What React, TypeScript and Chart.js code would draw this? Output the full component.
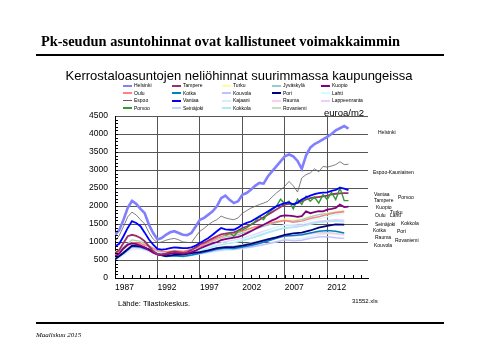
import React, { useEffect, useRef } from "react";
import { Chart, registerables } from "chart.js";
Chart.register(...registerables);

// ---------- DATA ----------
const HALF_YEARS = [
  1987, 1987.5, 1988, 1988.5, 1989, 1989.5, 1990, 1990.5, 1991, 1991.5,
  1992, 1992.5, 1993, 1993.5, 1994, 1994.5, 1995, 1995.5, 1996, 1996.5,
  1997, 1997.5, 1998, 1998.5, 1999, 1999.5, 2000, 2000.5, 2001, 2001.5,
  2002, 2002.5, 2003, 2003.5, 2004, 2004.5, 2005, 2005.5, 2006, 2006.5,
  2007, 2007.5, 2008, 2008.5, 2009, 2009.5, 2010, 2010.5, 2011, 2011.5,
  2012, 2012.5, 2013, 2013.5, 2014, 2014.5,
];
const YEARS = [
  1987, 1988, 1989, 1990, 1991, 1992, 1993, 1994, 1995, 1996, 1997, 1998, 1999, 2000,
  2001, 2002, 2003, 2004, 2005, 2006, 2007, 2008, 2009, 2010, 2011, 2012, 2013, 2014,
];
const X_TICKS = [1987, 1992, 1997, 2002, 2007, 2012];
const Y_TICKS = [0, 500, 1000, 1500, 2000, 2500, 3000, 3500, 4000, 4500];

// half-yearly series
const helsinki = [
  1200, 1330, 1620, 1950, 2140, 2060, 1920, 1800, 1480, 1250,
  1070, 1110, 1200, 1270, 1300, 1250, 1200, 1190, 1250, 1430,
  1620, 1670, 1760, 1850, 1990, 2220, 2290, 2170, 2080, 2130,
  2310, 2360, 2450, 2560, 2640, 2620, 2820, 2960, 3100, 3240,
  3380, 3430, 3380, 3250, 3030, 3400, 3620, 3720, 3780, 3850,
  3920, 4000, 4100, 4160, 4220, 4150,
];
const espoo = [
  1020, 1180, 1430, 1700, 1830, 1750, 1620, 1500, 1260, 1080,
  980, 1000, 1050, 1080, 1100, 1060, 1000, 990, 980, 1150,
  1300, 1380, 1480, 1560, 1620, 1720, 1670, 1640, 1620, 1670,
  1800, 1870, 1940, 1990, 2040, 2080, 2130, 2250, 2360, 2450,
  2550, 2680, 2560, 2390, 2780, 2870, 2920, 3030, 2950, 3100,
  3080, 3110, 3150, 3230, 3150, 3160,
];
const vantaa = [
  880, 950, 1160, 1390, 1580, 1530, 1440, 1260, 1070, 930,
  810, 790, 800, 830, 850, 840, 830, 830, 850, 900,
  970, 1040, 1110, 1200, 1300, 1390, 1350, 1340, 1340, 1400,
  1480, 1530, 1570, 1640, 1710, 1780, 1850, 1920, 1990, 2040,
  2080, 2100, 2040, 2100, 2180, 2240, 2290, 2330, 2360, 2370,
  2380, 2420, 2450, 2510, 2480, 2440,
];
const tampere = [
  690, 780, 970, 1160, 1200, 1170, 1110, 1020, 880, 750,
  660, 660, 680, 720, 740, 720, 700, 720, 780, 850,
  930, 980, 1040, 1100, 1160, 1210, 1230, 1250, 1270, 1320,
  1390, 1430, 1480, 1550, 1620, 1690, 1760, 1830, 1900, 1970,
  2040, 2060, 2060, 2080, 2130, 2180, 2220, 2240, 2250, 2270,
  2290, 2320, 2340, 2350, 2360, 2360,
];
const kuopio = [
  600, 680, 820, 930, 960, 940, 900, 850, 780, 700,
  650, 640, 650, 680, 700, 690, 680, 690, 720, 760,
  820, 870, 920, 960, 1000, 1050, 1080, 1100, 1120, 1140,
  1180, 1240, 1300, 1360, 1420, 1480, 1540, 1600, 1650, 1720,
  1740, 1730, 1720, 1700, 1720, 1850, 1800, 1830, 1860, 1850,
  1900, 1920, 1950, 2040, 1970, 1980,
];
const porvoo = [
  null, null, null, null, null, null, null, null, null, null,
  null, null, null, null, null, null, null, null, null, null,
  null, null, null, null, null, null, 1180, 1250, 1160, 1300,
  1340, 1390, 1480, 1570, 1710, 1620, 1800, 1900, 1990, 2190,
  2060, 2130, 1920, 2190, 2040, 2270, 2130, 2250, 2080, 2310,
  2180, 2380, 2180, 2500, 2150, 2150,
];

// yearly series
const turku = [720, 880, 1030, 1000, 900, 780, 740, 760, 740, 780, 860, 960, 1060, 1130, 1180, 1250, 1330, 1420, 1500, 1580, 1640, 1620, 1650, 1720, 1770, 1810, 1850, 1880];
const jyvaskyla = [680, 860, 1060, 1020, 900, 760, 720, 750, 730, 770, 860, 970, 1070, 1140, 1170, 1240, 1320, 1400, 1470, 1540, 1600, 1580, 1620, 1700, 1760, 1790, 1830, 1860];
const oulu = [650, 820, 980, 960, 880, 760, 730, 750, 740, 790, 880, 1000, 1110, 1190, 1230, 1300, 1380, 1450, 1510, 1560, 1600, 1550, 1580, 1650, 1700, 1760, 1810, 1840];
const kotka = [520, 680, 880, 860, 780, 660, 600, 620, 600, 640, 690, 740, 800, 830, 820, 860, 900, 960, 1030, 1100, 1170, 1180, 1200, 1250, 1300, 1320, 1300, 1250];
const kouvola = [560, 700, 860, 840, 760, 650, 600, 620, 600, 630, 680, 720, 770, 800, 800, 830, 860, 900, 950, 1000, 1060, 1030, 1050, 1100, 1140, 1150, 1120, 1100];
const pori = [520, 700, 900, 880, 800, 660, 610, 640, 650, 690, 720, 770, 830, 860, 860, 900, 950, 1010, 1070, 1130, 1200, 1240, 1260, 1320, 1400, 1450, 1490, 1480];
const lahti = [600, 760, 920, 900, 820, 700, 650, 680, 670, 700, 780, 860, 930, 980, 1000, 1080, 1150, 1230, 1320, 1400, 1480, 1480, 1520, 1590, 1650, 1700, 1760, 1780];
const kajaani = [500, 640, 800, 800, 730, 640, 600, 610, 600, 620, 660, 700, 740, 770, 780, 810, 850, 900, 960, 1020, 1080, 1080, 1100, 1150, 1200, 1230, 1240, 1250];
const rauma = [540, 680, 840, 830, 760, 660, 610, 630, 620, 650, 700, 750, 800, 830, 840, 880, 930, 990, 1040, 1100, 1150, 1160, 1180, 1220, 1250, 1240, 1220, 1200];
const lappeenranta = [620, 780, 960, 940, 850, 730, 690, 710, 700, 730, 800, 880, 950, 1010, 1050, 1110, 1180, 1260, 1340, 1410, 1470, 1460, 1480, 1530, 1580, 1600, 1620, 1610];
const seinajoki = [560, 720, 880, 870, 790, 690, 640, 660, 650, 690, 760, 830, 900, 950, 980, 1040, 1110, 1190, 1270, 1340, 1400, 1420, 1450, 1510, 1560, 1580, 1590, 1580];
const kokkola = [580, 740, 900, 880, 800, 700, 660, 670, 660, 700, 760, 830, 900, 950, 980, 1030, 1100, 1170, 1250, 1320, 1380, 1400, 1430, 1490, 1540, 1560, 1580, 1560];
const rovaniemi = [560, 700, 860, 850, 780, 680, 640, 650, 640, 670, 720, 780, 840, 880, 890, 930, 980, 1030, 1090, 1140, 1190, 1180, 1200, 1240, 1270, 1260, 1240, 1200];

const LEGEND_NAMES = [
  "Helsinki", "Tampere", "Turku", "Jyväskylä", "Kuopio",
  "Oulu", "Kotka", "Kouvola", "Pori", "Lahti",
  "Espoo", "Vantaa", "Kajaani", "Rauma", "Lappeenranta",
  "Porvoo", "Seinäjoki", "Kokkola", "Rovaniemi",
];

const COLORS: Record<string, string> = {
  Helsinki: "#8080ff", Tampere: "#993366", Turku: "#ffff99", "Jyväskylä": "#99cccc", Kuopio: "#800080",
  Oulu: "#ff8080", Kotka: "#0080c0", Kouvola: "#c0c0ff", Pori: "#000080", Lahti: "#ccffff",
  Espoo: "#606060", Vantaa: "#0000ff", Kajaani: "#d8ecff", Rauma: "#ffccee", Lappeenranta: "#eeccff",
  Porvoo: "#339933", "Seinäjoki": "#c8d0ff", Kokkola: "#aaeeee", Rovaniemi: "#c0e0c0",
};

const WIDTHS: Record<string, number> = {
  Helsinki: 2.6, Espoo: 0.8, Vantaa: 1.8, Porvoo: 1.4, Tampere: 1.8, Kuopio: 1.8, Pori: 1.8,
  Kotka: 1.5, Oulu: 1.5, Turku: 1.2, "Jyväskylä": 1.2, Kouvola: 1.4, Lahti: 1.2, Kajaani: 1.2,
  Rauma: 1.2, Lappeenranta: 1.2, "Seinäjoki": 1.2, Kokkola: 1.2, Rovaniemi: 1.2,
};

// draw order: first on top
const SERIES: [string, number[], (number | null)[]][] = [
  ["Helsinki", HALF_YEARS, helsinki],
  ["Espoo", HALF_YEARS, espoo],
  ["Vantaa", HALF_YEARS, vantaa],
  ["Porvoo", HALF_YEARS, porvoo],
  ["Tampere", HALF_YEARS, tampere],
  ["Kuopio", HALF_YEARS, kuopio],
  ["Pori", YEARS, pori],
  ["Kotka", YEARS, kotka],
  ["Oulu", YEARS, oulu],
  ["Kouvola", YEARS, kouvola],
  ["Jyväskylä", YEARS, jyvaskyla],
  ["Lahti", YEARS, lahti],
  ["Kokkola", YEARS, kokkola],
  ["Seinäjoki", YEARS, seinajoki],
  ["Lappeenranta", YEARS, lappeenranta],
  ["Rauma", YEARS, rauma],
  ["Rovaniemi", YEARS, rovaniemi],
  ["Kajaani", YEARS, kajaani],
  ["Turku", YEARS, turku],
];

const END_LABELS: [string, number, number][] = [
  ["Helsinki", 378, 132], ["Espoo-Kauniainen", 373, 172], ["Vantaa", 374, 194], ["Porvoo", 398, 197],
  ["Tampere", 374, 200], ["Kuopio", 376, 207], ["Turku", 390, 212], ["Oulu", 375, 215],
  ["Lahti", 390, 215], ["Seinäjoki", 375, 224], ["Kokkola", 401, 223], ["Kotka", 373, 230],
  ["Pori", 397, 231], ["Rauma", 375, 237], ["Rovaniemi", 395, 240], ["Kouvola", 374, 245],
];

const LEG_X = [123, 172, 222, 272, 321];
const LEG_Y = [85.5, 93, 100.5, 108];

const SANS = "'Liberation Sans', Arial, sans-serif";
const SERIF = "'Liberation Serif', 'Times New Roman', serif";

const minorTicks = {
  id: "minorTicks",
  afterDatasetsDraw(chart: any) {
    const { ctx, chartArea, scales } = chart;
    const x = scales.x, y = scales.y;
    ctx.save();
    ctx.strokeStyle = "#000";
    ctx.lineWidth = 1;
    ctx.beginPath();
    for (let yr = 1988; yr <= 2016; yr++) {
      const px = Math.round(x.getPixelForValue(yr)) + 0.5;
      ctx.moveTo(px, chartArea.bottom);
      ctx.lineTo(px, chartArea.bottom - 3);
    }
    for (let v = 100; v < 4500; v += 100) {
      const py = Math.round(y.getPixelForValue(v)) + 0.5;
      ctx.moveTo(chartArea.left, py);
      ctx.lineTo(chartArea.left + 3, py);
    }
    ctx.stroke();
    ctx.restore();
  },
};

function PlotCanvas() {
  const ref = useRef<HTMLCanvasElement>(null);
  useEffect(() => {
    const datasets = SERIES.map(([name, xs, vals]) => ({
      label: name,
      data: xs.map((xv, i) => ({ x: xv, y: vals[i] })),
      borderColor: COLORS[name],
      backgroundColor: COLORS[name],
      borderWidth: WIDTHS[name],
      pointRadius: 0,
      tension: 0,
      fill: false,
      spanGaps: false,
    }));
    const chart = new Chart(ref.current!, {
      type: "line",
      data: { datasets },
      options: {
        animation: false,
        responsive: false,
        maintainAspectRatio: false,
        layout: { padding: { left: 75, right: 112, top: 116, bottom: 42 } },
        plugins: { legend: { display: false }, title: { display: false }, tooltip: { enabled: false } },
        scales: {
          x: {
            type: "linear",
            min: 1987,
            max: 2016.8,
            afterBuildTicks: (s: any) => { s.ticks = X_TICKS.map((v) => ({ value: v })); },
            afterFit: (s: any) => { s.height = 40; },
            ticks: {
              align: "start",
              maxRotation: 0,
              autoSkip: false,
              padding: 5,
              color: "#000",
              font: { family: SANS, size: 8.5 },
              callback: (v: any) => String(v),
            },
            grid: { color: "#555", lineWidth: 1, drawTicks: false },
            border: { color: "#000", width: 1 },
          },
          y: {
            min: 0,
            max: 4500,
            afterBuildTicks: (s: any) => { s.ticks = Y_TICKS.map((v) => ({ value: v })); },
            afterFit: (s: any) => { s.width = 40; },
            ticks: {
              padding: 7,
              color: "#000",
              font: { family: SANS, size: 8.5 },
              callback: (v: any) => String(v),
            },
            grid: { color: "#555", lineWidth: 1, drawTicks: false },
            border: { color: "#000", width: 1 },
          },
        },
      },
      plugins: [minorTicks],
    } as any);
    return () => chart.destroy();
  }, []);
  return <canvas ref={ref} width={480} height={360} style={{ position: "absolute", left: 0, top: 0, width: 480, height: 360 }} />;
}

function Txt(props: { x: number; y: number; size: number; text: string; family?: string; bold?: boolean; italic?: boolean; align?: "left" | "center"; w?: number }) {
  const { x, y, size, text, family = SANS, bold, italic, align = "left", w } = props;
  return (
    <div
      style={{
        position: "absolute",
        left: align === "center" ? x - (w || 400) / 2 : x,
        top: y - size / 2 - 1,
        width: align === "center" ? w || 400 : undefined,
        textAlign: align,
        fontFamily: family,
        fontSize: size,
        lineHeight: `${size + 2}px`,
        fontWeight: bold ? "bold" : "normal",
        fontStyle: italic ? "italic" : "normal",
        whiteSpace: "nowrap",
        color: "#000",
      }}
    >
      {text}
    </div>
  );
}

export default function App() {
  return (
    <div style={{ position: "fixed", left: 0, top: 0, width: 480, height: 360, background: "#fff", overflow: "hidden" }}>
      <PlotCanvas />
      <Txt x={41} y={41} size={14.4} bold family={SERIF} text="Pk-seudun asuntohinnat ovat kallistuneet voimakkaimmin" />
      <div style={{ position: "absolute", left: 36, top: 54, width: 408, height: 2, background: "#000" }} />
      <Txt x={239} y={75} size={13} align="center" w={440} text="Kerrostaloasuntojen neliöhinnat suurimmassa kaupungeissa" />
      {LEGEND_NAMES.map((name, i) => {
        const cx = LEG_X[i % 5];
        const cy = LEG_Y[Math.floor(i / 5)];
        return (
          <React.Fragment key={name}>
            <div style={{ position: "absolute", left: cx, top: cy - 1, width: 9, height: name === "Espoo" ? 1 : 2, background: COLORS[name] }} />
            <Txt x={cx + 11} y={cy} size={5} text={name} />
          </React.Fragment>
        );
      })}
      <Txt x={324} y={113} size={9.5} text="euroa/m2" />
      {END_LABELS.map(([t, x, y]) => (
        <Txt key={t} x={x} y={y} size={5} text={t} />
      ))}
      <Txt x={118} y={304} size={7.5} text="Lähde: Tilastokeskus." />
      <Txt x={352} y={301} size={6} text="31552.xls" />
      <div style={{ position: "absolute", left: 36, top: 322, width: 408, height: 2, background: "#000" }} />
      <Txt x={36} y={335} size={7} italic family={SERIF} text="Maaliskuu 2015" />
    </div>
  );
}
